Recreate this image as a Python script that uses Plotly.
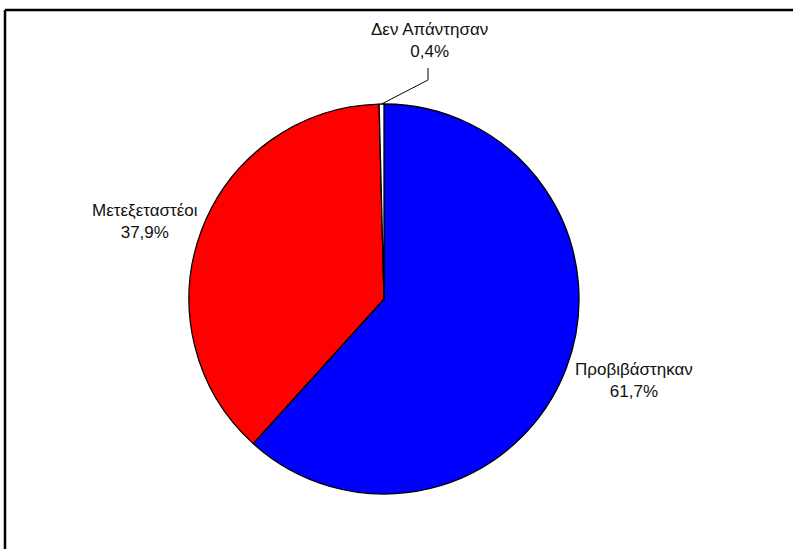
import math
import plotly.graph_objects as go

labels = ["Προβιβάστηκαν", "Μετεξεταστέοι", "Δεν Απάντησαν"]
values = [61.7, 37.9, 0.4]
value_text = ["61,7%", "37,9%", "0,4%"]
colors = ["#0000FF", "#FF0000", "#FFFFFF"]

W, H = 793, 549
CX, CY, R = 384, 299, 195

def px(x):
    return x / W

def py(y):
    return 1 - y / H

fig = go.Figure()
fig.add_trace(go.Pie(
    labels=labels,
    values=values,
    marker=dict(colors=colors, line=dict(color="black", width=1.3)),
    sort=False,
    direction="clockwise",
    rotation=0,
    textinfo="none",
    hoverinfo="label+percent",
    domain=dict(x=[px(CX - R), px(CX + R)], y=[py(CY + R), py(CY - R)]),
    showlegend=False,
))

# label positions (pixel positions of label centers)
label_pos = [(634, 380), (145, 221), (429, 40)]
font = dict(family="Liberation Sans, Arial, sans-serif", size=17, color="#111111")
annotations = []
for (lx, ly), lab, vt in zip(label_pos, labels, value_text):
    annotations.append(dict(
        x=px(lx), y=py(ly), xref="paper", yref="paper",
        text=f"{lab}<br>{vt}", showarrow=False, font=font,
        xanchor="center", yanchor="middle", align="center",
    ))

# leader line for the small slice, computed from the data
total = sum(values)
start = sum(values[:2]) / total
mid = (start + values[2] / total / 2) * 2 * math.pi
ex = CX + R * math.sin(mid)
ey = CY - R * math.cos(mid)
lx, ly = label_pos[2]
shapes = [
    dict(type="path", xref="paper", yref="paper",
         path=f"M {px(ex)} {py(ey)} L {px(lx - 1)} {py(80)} L {px(lx - 1)} {py(68)}",
         line=dict(color="black", width=1)),
    dict(type="line", xref="paper", yref="paper",
         x0=px(5), x1=px(5), y0=py(H), y1=py(10),
         line=dict(color="black", width=2.5)),
    dict(type="line", xref="paper", yref="paper",
         x0=px(5), x1=px(W), y0=py(10), y1=py(10),
         line=dict(color="black", width=2.5)),
]

fig.update_layout(
    width=W, height=H,
    margin=dict(l=0, r=0, t=0, b=0),
    paper_bgcolor="white",
    plot_bgcolor="white",
    annotations=annotations,
    shapes=shapes,
)

fig.write_html(
    "out.html",
    config={"displayModeBar": False},
    post_script="document.body.style.margin='0';document.body.style.overflow='hidden';",
)
